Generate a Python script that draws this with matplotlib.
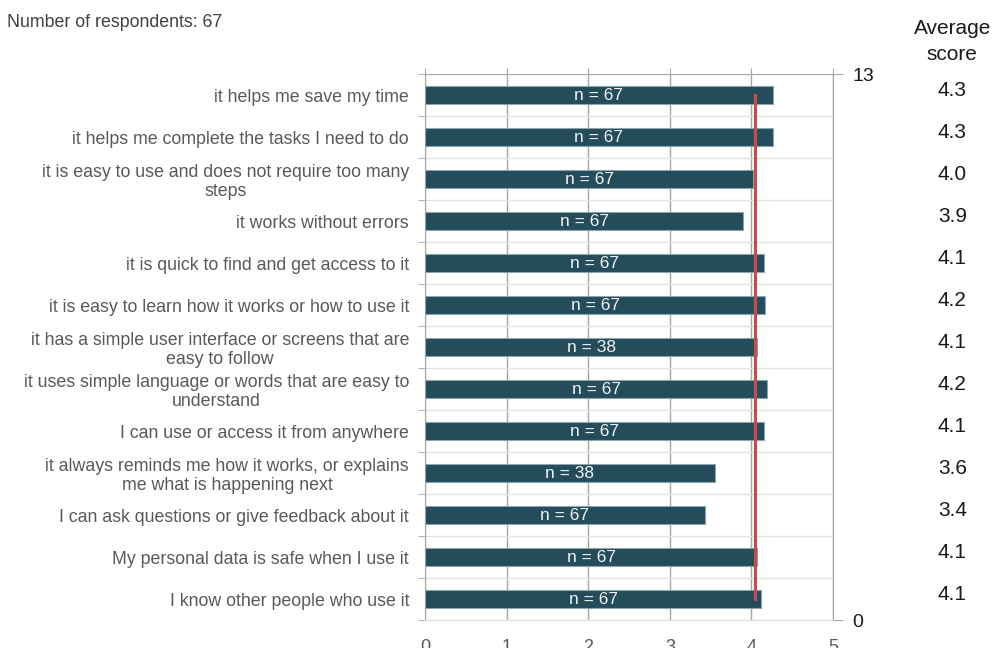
import matplotlib.pyplot as plt
import numpy as np

# === Data ===
statements = [
    "it helps me save my time",
    "it helps me complete the tasks I need to do",
    "it is easy to use and does not require too many\nsteps",
    "it works without errors",
    "it is quick to find and get access to it",
    "it is easy to learn how it works or how to use it",
    "it has a simple user interface or screens that are\neasy to follow",
    "it uses simple language or words that are easy to\nunderstand",
    "I can use or access it from anywhere",
    "it always reminds me how it works, or explains\nme what is happening next",
    "I can ask questions or give feedback about it",
    "My personal data is safe when I use it",
    "I know other people who use it",
]
bar_values = [4.26, 4.26, 4.02, 3.90, 4.15, 4.17, 4.07, 4.19, 4.15, 3.55, 3.43, 4.07, 4.12]
n_counts = [67, 67, 67, 67, 67, 67, 38, 67, 67, 38, 67, 67, 67]
avg_labels = ["4.3", "4.3", "4.0", "3.9", "4.1", "4.2", "4.1", "4.2", "4.1", "3.6", "3.4", "4.1", "4.1"]
overall_avg = 4.04
respondents = 67

plt.rcParams['font.family'] = ['Liberation Sans', 'DejaVu Sans']

fig = plt.figure(figsize=(9.94, 6.48), dpi=100)
ax = fig.add_axes([0.4276, 0.0432, 0.4105, 0.8426])

y = np.arange(len(statements))
bar_col = '#244C5A'
ax.barh(y, bar_values, height=0.42, color=bar_col, edgecolor='#8ea3ab', linewidth=0.8, zorder=3)

for yi, v, n in zip(y, bar_values, n_counts):
    ax.text(v / 2, yi, f"n = {n}", ha='center', va='center', color='#f2f2f2', fontsize=12.5, zorder=4)

# overall average line
ax.plot([overall_avg, overall_avg], [0, 12], color='#C0504D', lw=2.3, zorder=5)

ax.set_xlim(0, 5)
ax.set_ylim(12.5, -0.5)
ax.set_yticks(y)
ax.set_yticklabels(statements, fontsize=12.8, color='#595959', ha='right', multialignment='center',
                   linespacing=1.12)
ax.set_yticks(np.arange(-0.5, 13, 1), minor=True)
ax.tick_params(axis='y', which='major', length=0, pad=11.5)
ax.tick_params(axis='y', which='minor', length=5, color='#a6a6a6', direction='out')
ax.set_xticks(range(6))
ax.tick_params(axis='x', top=True, bottom=False, labeltop=False, labelbottom=True,
               length=4, color='#a6a6a6', labelsize=13, labelcolor='#595959', pad=9.5)

ax.grid(axis='x', which='major', color='#a6a6a6', lw=1.0, zorder=1)
ax.grid(axis='y', which='minor', color='#e3e3e3', lw=1.0, zorder=1)
ax.grid(axis='y', which='major', visible=False)

for side in ['left', 'right', 'top']:
    ax.spines[side].set_color('#a6a6a6')
ax.spines['bottom'].set_color('#e0e0e0')

# right-hand axis 0..13
ax2 = ax.twinx()
ax2.set_ylim(0, 13)
ax2.set_yticks([0, 13])
ax2.tick_params(axis='y', length=7, color='#a6a6a6', labelsize=14, labelcolor='#1a1a1a', pad=7)
for side in ['left', 'right', 'top', 'bottom']:
    ax2.spines[side].set_visible(False)

# average score column
fig.text(0.958, 0.956, "Average", ha='center', va='center', fontsize=15, color='#1a1a1a')
fig.text(0.958, 0.916, "score", ha='center', va='center', fontsize=15, color='#1a1a1a')
for yi, lab in zip(y, avg_labels):
    ax.annotate(lab, xy=(0.958, yi), xycoords=('figure fraction', 'data'),
                xytext=(0, 3.5), textcoords='offset points', ha='center', va='center',
                fontsize=15, color='#1a1a1a', annotation_clip=False)

fig.text(0.007, 0.966, f"Number of respondents: {respondents}", ha='left', va='center',
         fontsize=12.8, color='#404040')

fig.savefig('out.png', dpi=100)
